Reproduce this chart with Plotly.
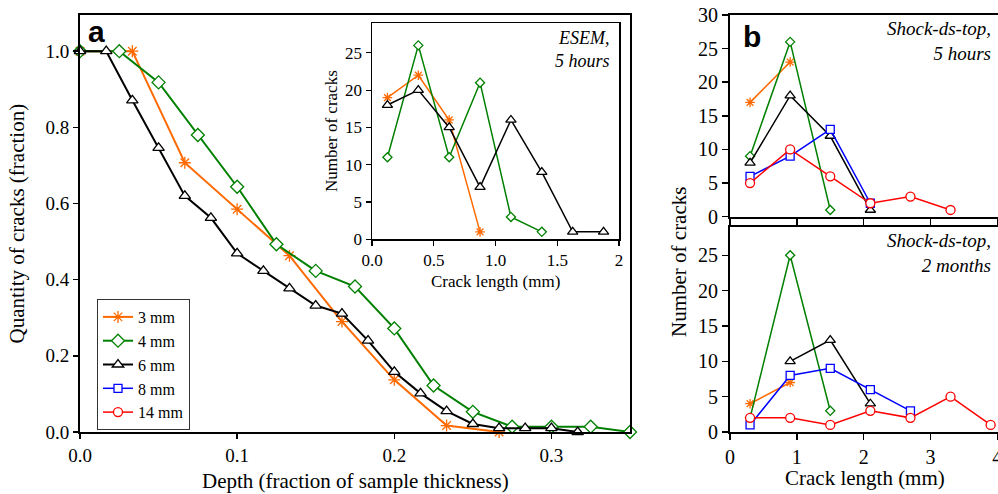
import plotly.graph_objects as go

# ---------------- data: panel a (main) ----------------
depth_3mm = [0, 0.0333, 0.0667, 0.1, 0.1333, 0.1667, 0.2, 0.2333, 0.2667]
frac_3mm = [1.0, 1.0, 0.707, 0.585, 0.463, 0.29, 0.137, 0.017, 0.0]
depth_4mm = [0, 0.025, 0.05, 0.075, 0.1, 0.125, 0.15, 0.175, 0.2, 0.225, 0.25, 0.275, 0.3, 0.325, 0.35]
frac_4mm = [1.0, 1.0, 0.918, 0.78, 0.644, 0.493, 0.423, 0.382, 0.272, 0.122, 0.053, 0.014, 0.014, 0.014, 0.0]
depth_6mm = [0, 0.0167, 0.0333, 0.05, 0.0667, 0.0833, 0.1, 0.1167, 0.1333, 0.15, 0.1667,
             0.1833, 0.2, 0.2167, 0.2333, 0.25, 0.2667, 0.2833, 0.3, 0.3167]
frac_6mm = [1.0, 1.0, 0.871, 0.746, 0.620, 0.5625, 0.469, 0.423, 0.377, 0.332, 0.311,
            0.24, 0.158, 0.1015, 0.055, 0.021, 0.01, 0.01, 0.01, 0.0]

# ---------------- data: inset (ESEM, 5 hours) ----------------
esem_len = [0.125, 0.375, 0.625, 0.875, 1.125, 1.375, 1.625, 1.875]
esem_3mm = [19, 22, 16, 1]
esem_4mm = [11, 26, 11, 21, 3, 1]
esem_6mm = [18, 20, 15, 7, 16, 9, 1, 1]

# ---------------- data: panel b ----------------
b_len = [0.3, 0.9, 1.5, 2.1, 2.7, 3.3, 3.9]
b5h_3mm = [17, 23]
b5h_4mm = [9, 26, 1]
b5h_6mm = [8, 18, 12, 1]
b5h_8mm = [6, 9, 13, 2]
b5h_14mm = [5, 10, 6, 2, 3, 1]
b2m_3mm = [4, 7]
b2m_4mm = [2, 25, 3]
b2m_6mm_len = [0.9, 1.5, 2.1]
b2m_6mm = [10, 13, 4]
b2m_8mm = [1, 8, 9, 6, 3]
b2m_14mm = [2, 2, 1, 3, 2, 5, 1]

legend_names = ["3 mm", "4 mm", "6 mm", "8 mm", "14 mm"]

# ---------------- styles ----------------
W, H = 998, 494
ORANGE = "#FF6A00"
GREEN = "#008000"
BLACK = "#000000"
BLUE = "#0000FF"
RED = "#FF0000"
SERIF = "Liberation Serif"
SANS = "Liberation Sans"

sty = {
    "3 mm": dict(color=ORANGE, symbol="asterisk-open"),
    "4 mm": dict(color=GREEN, symbol="diamond"),
    "6 mm": dict(color=BLACK, symbol="triangle-up"),
    "8 mm": dict(color=BLUE, symbol="square"),
    "14 mm": dict(color=RED, symbol="circle"),
}


def px_x(p):
    return p / W


def px_y(p):
    return 1 - p / H


def trace(x, y, name, xa, ya, lw, ms, showlegend=False, rank=None):
    s = sty[name]
    if s["symbol"] == "asterisk-open":
        marker = dict(symbol="asterisk-open", size=ms, color=s["color"],
                      line=dict(color=s["color"], width=1.3))
    else:
        marker = dict(symbol=s["symbol"], size=ms, color="white",
                      line=dict(color=s["color"], width=1.3))
    return go.Scatter(x=x, y=y, name=name, mode="lines+markers",
                      xaxis=xa, yaxis=ya, cliponaxis=False,
                      line=dict(color=s["color"], width=lw), marker=marker,
                      showlegend=showlegend, legendrank=rank or 1000)


fig = go.Figure()

# main panel a
fig.add_trace(trace(depth_3mm, frac_3mm, legend_names[0], "x", "y", 2, 10, True, 1))
fig.add_trace(trace(depth_4mm, frac_4mm, legend_names[1], "x", "y", 2, 10, True, 2))
fig.add_trace(trace(depth_6mm, frac_6mm, legend_names[2], "x", "y", 2, 10, True, 3))

# inset
fig.add_trace(trace(esem_len[:len(esem_3mm)], esem_3mm, legend_names[0], "x2", "y2", 1.5, 8))
fig.add_trace(trace(esem_len[:len(esem_4mm)], esem_4mm, legend_names[1], "x2", "y2", 1.5, 7))
fig.add_trace(trace(esem_len[:len(esem_6mm)], esem_6mm, legend_names[2], "x2", "y2", 1.5, 9))

# panel b top (5 hours)
fig.add_trace(trace(b_len[:len(b5h_3mm)], b5h_3mm, legend_names[0], "x3", "y3", 1.5, 8))
fig.add_trace(trace(b_len[:len(b5h_4mm)], b5h_4mm, legend_names[1], "x3", "y3", 1.5, 7))
fig.add_trace(trace(b_len[:len(b5h_6mm)], b5h_6mm, legend_names[2], "x3", "y3", 1.5, 9))
fig.add_trace(trace(b_len[:len(b5h_8mm)], b5h_8mm, legend_names[3], "x3", "y3", 1.5, 8, True, 4))
fig.add_trace(trace(b_len[:len(b5h_14mm)], b5h_14mm, legend_names[4], "x3", "y3", 1.5, 9, True, 5))

# panel b bottom (2 months)
fig.add_trace(trace(b_len[:len(b2m_3mm)], b2m_3mm, legend_names[0], "x4", "y4", 1.5, 8))
fig.add_trace(trace(b_len[:len(b2m_4mm)], b2m_4mm, legend_names[1], "x4", "y4", 1.5, 7))
fig.add_trace(trace(b2m_6mm_len, b2m_6mm, legend_names[2], "x4", "y4", 1.5, 9))
fig.add_trace(trace(b_len[:len(b2m_8mm)], b2m_8mm, legend_names[3], "x4", "y4", 1.5, 8))
fig.add_trace(trace(b_len[:len(b2m_14mm)], b2m_14mm, legend_names[4], "x4", "y4", 1.5, 9))

axis_common = dict(showline=True, linecolor="black", ticks="outside", tickcolor="black",
                   showgrid=False, zeroline=False, fixedrange=True, automargin=False,
                   ticklabeloverflow="allow")

tickfont_main = dict(family=SERIF, size=19, color="black")
tickfont_inset = dict(family=SERIF, size=17, color="black")
tickfont_b = dict(family=SERIF, size=20, color="black")

fig.update_layout(
    width=W, height=H, autosize=False,
    margin=dict(l=0, r=0, t=0, b=0, pad=0),
    paper_bgcolor="white", plot_bgcolor="rgba(0,0,0,0)",
    font=dict(family=SERIF, color="black"),
    # main a
    xaxis=dict(axis_common, domain=[px_x(80), px_x(630)], range=[0, 0.35],
               tickvals=[0, 0.1, 0.2, 0.3], tickformat=".1f", linewidth=2,
               ticklen=5, tickwidth=1.5, mirror=True, tickfont=tickfont_main, anchor="y"),
    yaxis=dict(axis_common, domain=[px_y(432), px_y(15)], range=[0, 1.095],
               tickvals=[0, 0.2, 0.4, 0.6, 0.8, 1.0], tickformat=".1f", linewidth=2,
               ticklen=5, tickwidth=1.5, mirror=True, tickfont=tickfont_main, anchor="x"),
    # inset
    xaxis2=dict(axis_common, domain=[px_x(372), px_x(619)], range=[0, 2],
                tickvals=[0, 0.5, 1.0, 1.5, 2], ticktext=["0.0", "0.5", "1.0", "1.5", "2"],
                linewidth=1.5, ticklen=5, tickwidth=1.2, mirror=True,
                tickfont=tickfont_inset, anchor="y2"),
    yaxis2=dict(axis_common, domain=[px_y(239.3), px_y(23)], range=[0, 29],
                tickvals=[0, 5, 10, 15, 20, 25], linewidth=1.5, ticklen=5, tickwidth=1.2,
                mirror=True, tickfont=tickfont_inset, anchor="x2"),
    # panel b top
    xaxis3=dict(axis_common, domain=[px_x(730), 1], range=[0, 4.01],
                tickvals=[0, 1, 2, 3, 4], showticklabels=False, linewidth=2,
                ticklen=6, tickwidth=1.5, mirror=True, anchor="y3"),
    yaxis3=dict(axis_common, domain=[px_y(216.7), px_y(15)], range=[0, 30],
                tickvals=[0, 5, 10, 15, 20, 25, 30], linewidth=2, ticklen=6, tickwidth=1.5,
                tickfont=tickfont_b, anchor="x3"),
    # panel b bottom
    xaxis4=dict(axis_common, domain=[px_x(730), 1], range=[0, 4.01],
                tickvals=[0, 1, 2, 3, 4], linewidth=2, ticklen=6, tickwidth=1.5,
                mirror=True, tickfont=tickfont_b, anchor="y4"),
    yaxis4=dict(axis_common, domain=[px_y(432), px_y(227)], range=[0, 29],
                tickvals=[0, 5, 10, 15, 20, 25], linewidth=2, ticklen=6, tickwidth=1.5,
                tickfont=tickfont_b, anchor="x4"),
    legend=dict(x=px_x(97), y=px_y(299), xanchor="left", yanchor="top",
                bgcolor="white", bordercolor="#333333", borderwidth=1,
                font=dict(family=SERIF, size=16, color="black"),
                tracegroupgap=0, itemwidth=30),
)

ann = []


def text(x, y, t, size, rot=0, italic=False, bold=False, fam=SERIF, xanchor="center", align="center"):
    ann.append(dict(x=px_x(x), y=px_y(y), xref="paper", yref="paper", text=t,
                    showarrow=False, textangle=rot, xanchor=xanchor, yanchor="middle",
                    align=align,
                    font=dict(family=fam, size=size, color="black",
                              style="italic" if italic else "normal",
                              weight="bold" if bold else "normal")))


# axis titles
text(355, 481, "Depth (fraction of sample thickness)", 21)
text(16, 223.5, "Quantity of cracks (fraction)", 21, rot=-90)
text(495.5, 281, "Crack length (mm)", 17)
text(331, 131, "Number of cracks", 17, rot=-90)
text(865, 478, "Crack length (mm)", 21)
text(679, 262, "Number of cracks", 21, rot=-90)

# panel labels
text(96, 32, "a", 30, bold=True, fam=SANS)
text(752, 37, "b", 30, bold=True, fam=SANS)

# in-plot notes
text(612, 50, "ESEM,<br>5 hours", 18, italic=True, xanchor="right", align="right")
text(993, 41, "Shock-ds-top,<br>5 hours", 19, italic=True, xanchor="right", align="right")
text(993, 253, "Shock-ds-top,<br>2 months", 19, italic=True, xanchor="right", align="right")

fig.update_layout(annotations=ann)

fig.write_html(
    "out.html",
    config={"displayModeBar": False, "staticPlot": True},
    post_script="document.body.style.margin='0';document.body.style.padding='0';"
                "document.body.style.overflow='hidden';",
)
